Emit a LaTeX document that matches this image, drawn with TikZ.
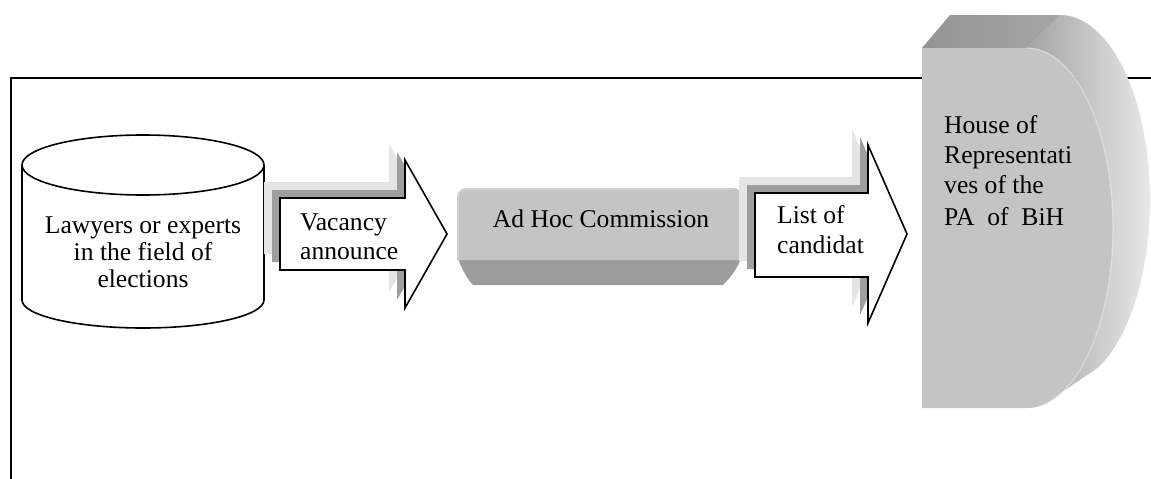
\documentclass[tikz,border=0pt]{standalone}
\usepackage{fontspec}
\setmainfont{Liberation Serif}
\begin{document}
\begin{tikzpicture}[x=1pt,y=-1pt,
  txt/.style={inner sep=0pt, font=\fontsize{25.6}{27}\selectfont},
  outline/.style={draw=black, line width=1.6pt, line join=miter},
  framebox/.style={draw=black, line width=1.4pt},
  faceclr/.style={fill=black!23},
  bevelclr/.style={fill=black!39}]
\useasboundingbox (0,0) rectangle (1151,479);
\fill[white] (0,0) rectangle (1151,479);

% frame (partly visible)
\draw[framebox] (11,479) -- (11,78) -- (1151,78);

% cylinder
\draw[outline, fill=white] (22,165) -- (22,300)
  arc[start angle=180, end angle=0, x radius=121, y radius=28]
  -- (264,165);
\draw[outline, fill=white] (143,165) ellipse [x radius=121, y radius=30];
\node[txt, anchor=base] (law1) at (143,233) {Lawyers or experts};
\node[txt, anchor=base] (law2) at (143,260) {in the field of};
\node[txt, anchor=base] (law3) at (143,287) {elections};

% arrow 1 with shadows
\foreach \d/\c in {16/black!10, 8/black!38} {
  \fill[fill=\c, shift={(-\d,-\d)}] (280,198) -- (405,198) -- (405,160) -- (447,234)
    -- (405,308) -- (405,270) -- (280,270) -- cycle;
}
\draw[outline, fill=white] (280,198) -- (405,198) -- (405,160) -- (447,234)
    -- (405,308) -- (405,270) -- (280,270) -- cycle;
\node[txt, anchor=base west] (vac1) at (300,230) {Vacancy};
\node[txt, anchor=base west] (vac2) at (300,259) {announce};

% Ad Hoc Commission box
\fill[bevelclr] (457,256) .. controls (462,270) and (468,280) .. (473,285)
  -- (723,285) .. controls (730,278) and (738,268) .. (742,256) -- cycle;
\fill[faceclr] (457,260) -- (457,197) arc[start angle=180, end angle=270, radius=9]
  -- (733,188) arc[start angle=270, end angle=360, radius=9] -- (742,260) -- cycle;
\draw[white, opacity=0.35, line width=1pt] (458,258) -- (458,197)
  arc[start angle=180, end angle=270, radius=8] -- (733,189);
\node[txt, anchor=base] (adhoc) at (601,227) {Ad Hoc Commission};

% arrow 2 with shadows
\foreach \d/\c in {16/black!10, 8/black!38} {
  \fill[fill=\c, shift={(-\d,-\d)}] (755,193) -- (868,193) -- (868,145) -- (907,234)
    -- (868,323) -- (868,277) -- (755,277) -- cycle;
}
\draw[outline, fill=white] (755,193) -- (868,193) -- (868,145) -- (907,234)
    -- (868,323) -- (868,277) -- (755,277) -- cycle;
\node[txt, anchor=base west] (list1) at (777,223) {List of};
\node[txt, anchor=base west] (list2) at (777,253) {candidat};

% House of Representatives shape
\shade[left color=black!36, right color=black!9]
  (1027,48) -- (1060,15)
  arc[start angle=-90, end angle=65, x radius=90, y radius=185]
  -- (1027+36.3,228+163.1)
  arc[start angle=65, end angle=-90, x radius=86, y radius=180] -- cycle;
\shade[left color=black!42, right color=black!35]
  (922,48) -- (950,15) -- (1060,15) -- (1027,48) -- cycle;
\fill[faceclr] (922,48) -- (1027,48)
  arc[start angle=-90, end angle=90, x radius=86, y radius=180]
  -- (922,408) -- cycle;
\draw[white, opacity=0.3, line width=1.5pt] (1027,48)
  arc[start angle=-90, end angle=75, x radius=86, y radius=180];
\node[txt, anchor=base west] (hor1) at (944,133) {House of};
\node[txt, anchor=base west] (hor2) at (944,163) {Representati};
\node[txt, anchor=base west] (hor3) at (944,193) {ves of the};
\node[txt, anchor=base west] (hor4) at (944,225) {PA~~of~~BiH};
\end{tikzpicture}
\end{document}
